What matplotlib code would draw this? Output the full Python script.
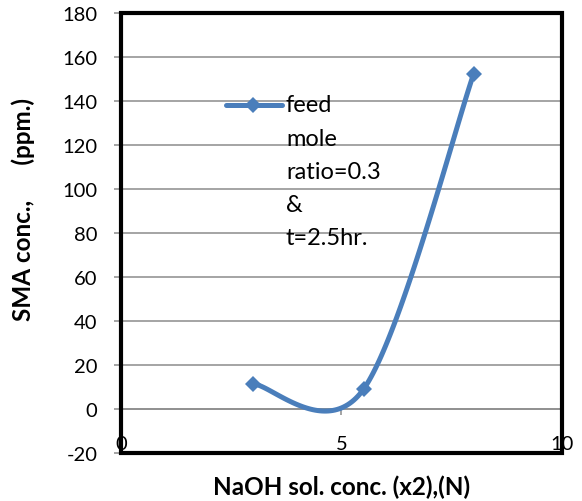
import numpy as np
import matplotlib
matplotlib.use("Agg")
import matplotlib.pyplot as plt
from matplotlib.patches import Rectangle

plt.rcParams['font.family'] = ['Lato', 'DejaVu Sans']
plt.rcParams['axes.unicode_minus'] = False

# data
naoh_conc = [3.0, 5.5, 8.0]
sma_conc = [11.4, 9.0, 152.5]
legend_label = "feed\nmole\nratio=0.3\n&\nt=2.5hr."
x_ticks = [0, 5, 10]
y_ticks = list(range(-20, 181, 20))

blue = "#4a7ebb"
grid_gray = "#8c8c8c"


def excel_smooth(xs, ys, n=60):
    # catmull-rom style bezier like Excel's "smoothed line"
    p = np.column_stack([xs, ys]).astype(float)
    ext = np.vstack([p[0], p, p[-1]])
    out = []
    t = np.linspace(0, 1, n)[:, None]
    for i in range(len(p) - 1):
        p0, p1, p2, p3 = ext[i], ext[i + 1], ext[i + 2], ext[i + 3]
        c1 = p1 + (p2 - p0) / 6
        c2 = p2 - (p3 - p1) / 6
        seg = ((1 - t) ** 3) * p1 + 3 * ((1 - t) ** 2) * t * c1 \
            + 3 * (1 - t) * t ** 2 * c2 + t ** 3 * p2
        out.append(seg)
    out = np.vstack(out)
    return out[:, 0], out[:, 1]


fig = plt.figure(figsize=(5.82, 5.02), dpi=100)
ax = fig.add_axes([0.2079, 0.0956, 0.7577, 0.8765])

ax.set_xlim(0, 10)
ax.set_ylim(-20, 180)
ax.set_xticks(x_ticks)
ax.set_yticks(y_ticks)

ax.yaxis.grid(True, color=grid_gray, linewidth=1.1)
ax.set_axisbelow(True)

for s in ["top", "right"]:
    ax.spines[s].set_visible(False)
ax.spines["bottom"].set_position(("data", 0))
ax.spines["bottom"].set_color(grid_gray)
ax.spines["left"].set_color(grid_gray)
ax.spines["bottom"].set_linewidth(1.1)
ax.spines["left"].set_linewidth(1.1)

ax.tick_params(axis="y", direction="out", length=5, width=1.1, color=grid_gray,
               pad=12, labelsize=14.5)
ax.tick_params(axis="x", direction="out", length=4.5, width=1.1, color=grid_gray,
               pad=14, labelsize=14.5)

# outer frame of plot area
ax.add_patch(Rectangle((0, 0), 1, 1, transform=ax.transAxes, fill=False,
                       edgecolor="black", linewidth=3, zorder=6, clip_on=False))

sx, sy = excel_smooth(naoh_conc, sma_conc)
ax.plot(sx, sy, color=blue, linewidth=3.6, solid_capstyle="round", zorder=3)
ax.plot(naoh_conc, sma_conc, linestyle="none", marker="D", markersize=8.5,
        color=blue, markeredgewidth=0, zorder=4)

# legend drawn by hand so the marker sits beside the first line
ax.plot([0.238, 0.365], [0.79, 0.79], transform=ax.transAxes, color=blue,
        linewidth=3.6, solid_capstyle="round", zorder=4)
ax.plot([0.299], [0.79], transform=ax.transAxes, marker="D", markersize=8.5,
        color=blue, markeredgewidth=0, zorder=4)
ax.text(0.374, 0.815, legend_label, transform=ax.transAxes, fontsize=17,
        va="top", ha="left", linespacing=1.72, zorder=5)

ax.set_xlabel("NaOH sol. conc. (x2),(N)", fontsize=17.5, fontweight="bold")
ax.set_ylabel("SMA conc.,      (ppm.)", fontsize=17.5, fontweight="bold")
ax.xaxis.set_label_coords(0.5, -0.05)
ax.yaxis.set_label_coords(-0.195, 0.555)

fig.savefig("out.png", dpi=100)
